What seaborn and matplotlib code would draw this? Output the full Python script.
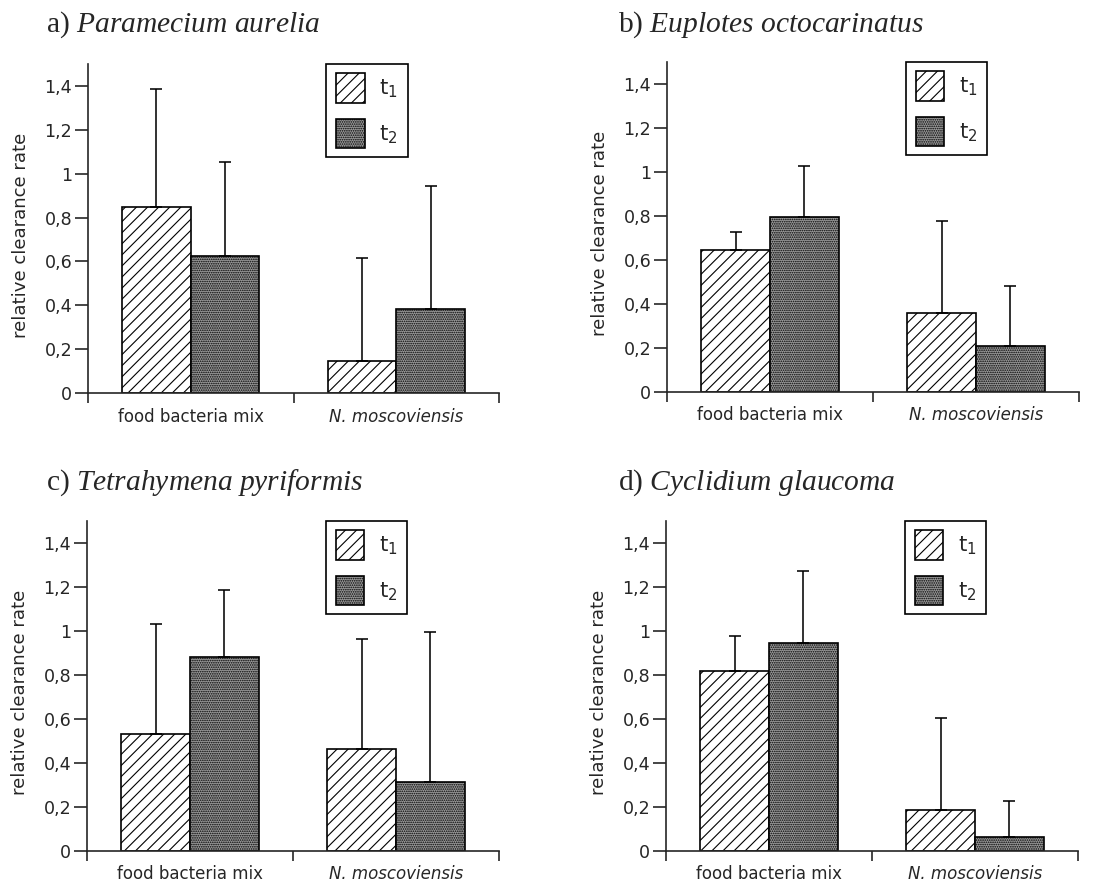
import numpy as np
import pandas as pd
import seaborn as sns
import matplotlib
matplotlib.use("Agg")
import matplotlib.pyplot as plt
from matplotlib.patches import Patch

# ---- data ----
categories = ["food bacteria mix", "N. moscoviensis"]
times = ["t1", "t2"]
panel_letters = ["a)", "b)", "c)", "d)"]
species = ["Paramecium aurelia", "Euplotes octocarinatus",
           "Tetrahymena pyriformis", "Cyclidium glaucoma"]

t1_means = [[0.85, 0.147], [0.645, 0.36], [0.532, 0.462], [0.818, 0.185]]
t1_sd    = [[0.535, 0.47], [0.082, 0.417], [0.50, 0.50], [0.158, 0.418]]
t2_means = [[0.625, 0.382], [0.795, 0.206], [0.879, 0.311], [0.943, 0.061]]
t2_sd    = [[0.429, 0.563], [0.232, 0.273], [0.305, 0.684], [0.33, 0.166]]

yticks = [0, 0.2, 0.4, 0.6, 0.8, 1.0, 1.2, 1.4]
ytick_labels = ["0", "0,2", "0,4", "0,6", "0,8", "1", "1,2", "1,4"]
ylabel = "relative clearance rate"
legend_labels = [r"$\mathregular{t_1}$", r"$\mathregular{t_2}$"]

# ---- style ----
sns.set_style("ticks")
plt.rcParams["font.family"] = ["DejaVu Sans"]
plt.rcParams["hatch.linewidth"] = 0.6
plt.rcParams["mathtext.fontset"] = "custom"
plt.rcParams["mathtext.rm"] = "Liberation Serif"
plt.rcParams["mathtext.it"] = "Liberation Serif:italic"

W, H, DPI = 1111, 884, 133
fig = plt.figure(figsize=(W / DPI, H / DPI), dpi=DPI)

# axes boxes in pixels: left, right, y of zero, y of 1.5
boxes = [(88, 499, 393.3, 63.7), (667, 1079, 391.7, 61.7),
         (87, 499, 850.7, 520.7), (666, 1078, 850.7, 520.7)]
title_pos = [(46, 32), (618, 32), (46, 490), (618, 490)]

fill_t2 = "#9a9a9a"
hatch_t1 = "////"
hatch_t2 = ".........."

for i in range(4):
    l, r, yb, yt = boxes[i]
    ax = fig.add_axes([l / W, (H - yb) / H, (r - l) / W, (yb - yt) / H])
    df = pd.DataFrame({
        "category": categories * 2,
        "time": [times[0]] * 2 + [times[1]] * 2,
        "value": t1_means[i] + t2_means[i],
    })
    sns.barplot(data=df, x="category", y="value", hue="time",
                order=categories, hue_order=times, width=0.667, gap=0,
                errorbar=None, legend=False, ax=ax,
                palette=["white", fill_t2], saturation=1,
                edgecolor="black", linewidth=0.9)
    sds = [t1_sd[i], t2_sd[i]]
    hatches = [hatch_t1, hatch_t2]
    bar_containers = list(ax.containers)
    for k, cont in enumerate(bar_containers):
        xs, ys = [], []
        for bar in cont.patches:
            bar.set_hatch(hatches[k])
            xs.append(bar.get_x() + bar.get_width() / 2)
            ys.append(bar.get_height())
        errs = np.array(sds[k])
        ax.errorbar(xs, ys, yerr=[np.zeros_like(errs), errs], fmt="none",
                    ecolor="black", elinewidth=0.85, capsize=3.3, capthick=0.85,
                    zorder=1)
    ax.set_xlim(-0.5, 1.5)
    ax.set_ylim(0, 1.5)
    ax.set_yticks(yticks)
    ax.set_yticklabels(ytick_labels, fontsize=9.5)
    ax.tick_params(axis="y", length=7, width=0.9, pad=1.5)
    ax.set_xticks([0, 1])
    ax.set_xticklabels(categories, fontsize=9)
    ax.get_xticklabels()[1].set_fontstyle("italic")
    ax.tick_params(axis="x", which="major", length=0, pad=8)
    ax.set_xticks([-0.5, 0.5, 1.5], minor=True)
    ax.tick_params(axis="x", which="minor", length=5.5, width=0.9)
    ax.set_xlabel("")
    ax.set_ylabel(ylabel, fontsize=9.8)
    ax.yaxis.set_label_coords(-0.14, 0.48)
    for s in ["top", "right"]:
        ax.spines[s].set_visible(False)
    for s in ["left", "bottom"]:
        ax.spines[s].set_linewidth(0.9)
    handles = [Patch(facecolor="white", edgecolor="black", hatch=hatch_t1, linewidth=0.9),
               Patch(facecolor=fill_t2, edgecolor="black", hatch=hatch_t2, linewidth=0.9)]
    leg = ax.legend(handles, legend_labels, loc="upper left",
                    bbox_to_anchor=(0.58, 1.0), borderaxespad=0,
                    fontsize=11.5, handlelength=1.35, handleheight=1.75,
                    labelspacing=0.75, borderpad=0.45, handletextpad=0.7,
                    fancybox=False, framealpha=1, edgecolor="black")
    leg.get_frame().set_linewidth(0.9)
    tx, ty = title_pos[i]
    fig.text(tx / W, (H - ty) / H,
             panel_letters[i] + r" $\mathit{" + species[i].replace(" ", r"\ ") + "}$",
             fontsize=16, family="Liberation Serif", va="baseline", ha="left")

fig.savefig("out.png", dpi=DPI, facecolor="white")
